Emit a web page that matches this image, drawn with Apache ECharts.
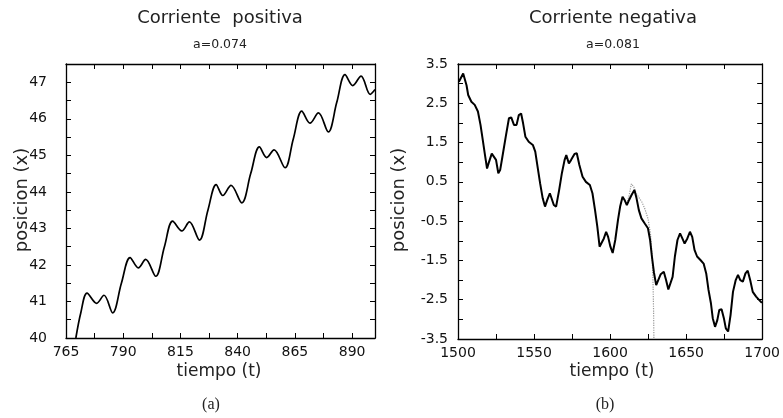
<!DOCTYPE html>
<html>
<head>
<meta charset="utf-8">
<script src="https://cdn.jsdelivr.net/npm/echarts@6/dist/echarts.min.js"></script>
<style>
html,body{margin:0;padding:0;background:#fff;}
#c{width:783px;height:418px;}
</style>
</head>
<body>
<div id="c"></div>
<script>
// ---- Data: panel (a) Corriente positiva ----
const leftT = [769.3, 771.5, 774.2, 778.4, 781.6, 785.4, 789.2, 793.0, 796.6, 799.8, 804.2, 808.0, 811.6, 815.6, 818.9, 823.3, 827.0, 830.6, 833.5, 837.1, 841.8, 845.7, 849.5, 852.7, 855.9, 860.7, 864.3, 868.0, 871.6, 875.3, 879.6, 883.3, 886.9, 890.3, 893.9, 897.9, 900.0];
const leftX = [40.0, 40.7, 41.23, 40.95, 41.17, 40.69, 41.5, 42.2, 41.92, 42.15, 41.69, 42.5, 43.2, 42.93, 43.18, 42.68, 43.5, 44.2, 43.9, 44.18, 43.7, 44.5, 45.23, 44.94, 45.15, 44.66, 45.45, 46.21, 45.88, 46.16, 45.64, 46.45, 47.21, 46.91, 47.17, 46.67, 46.8];

// ---- Data: panel (b) Corriente negativa ----
const rightT = [1500.6, 1503.4, 1505.6, 1506.7, 1508.8, 1511, 1513.1, 1514.8, 1516.3, 1517.9, 1519.1, 1520.1, 1522.2, 1523.5, 1525, 1526.5, 1527.7, 1529.2, 1531.4, 1533.5, 1535, 1536.8, 1538.5, 1540, 1541.5, 1542.8, 1544.3, 1546.5, 1549.2, 1550.8, 1552.3, 1554, 1555.7, 1557.2, 1558.7, 1560.4, 1561.5, 1563, 1564.5, 1566.5, 1568.3, 1570.1, 1571.2, 1572.9, 1574.4, 1576.6, 1578.1, 1579.8, 1581.9, 1584.1, 1586.7, 1588.4, 1590.1, 1591.6, 1593.1, 1594.4, 1595.9, 1597.4, 1598.7, 1600.2, 1601.7, 1603.4, 1605.2, 1606.6, 1608.2, 1609.5, 1611, 1612.5, 1614.2, 1616, 1617.4, 1618.9, 1620.6, 1622.8, 1624.9, 1626.3, 1627.5, 1628.8, 1630.3, 1631.6, 1633.3, 1635.3, 1636.8, 1638.3, 1639.6, 1641.1, 1642.6, 1644.3, 1646, 1647.5, 1649, 1650.8, 1652.5, 1654, 1655.5, 1657.2, 1659.4, 1661.5, 1663.2, 1664.7, 1666.3, 1667.5, 1669, 1670.5, 1671.8, 1673.3, 1674.8, 1676.1, 1677.6, 1679.2, 1680.8, 1682.6, 1684.1, 1685.6, 1687.3, 1689, 1690.5, 1692.1, 1693.8, 1696, 1698.1, 1699.8];
const rightX = [3.05, 3.26, 2.96, 2.71, 2.54, 2.46, 2.29, 1.95, 1.56, 1.14, 0.84, 0.97, 1.22, 1.27, 1.06, 0.72, 0.80, 1.14, 1.65, 2.12, 2.14, 1.95, 1.95, 2.20, 2.24, 1.99, 1.65, 1.52, 1.44, 1.27, 0.89, 0.46, 0.08, -0.13, 0.04, 0.21, 0.17, -0.09, -0.13, 0.29, 0.72, 1.06, 1.18, 0.97, 1.06, 1.21, 1.23, 0.93, 0.63, 0.50, 0.42, 0.21, -0.22, -0.64, -1.15, -1.19, -0.94, -0.77, -0.90, -1.15, -1.31, -0.98, -0.47, -0.13, 0.12, 0.04, -0.09, 0.04, 0.17, 0.29, 0.08, -0.22, -0.43, -0.56, -0.68, -0.98, -1.40, -1.80, -2.13, -2.17, -1.85, -1.79, -2.0, -2.24, -2.27, -1.92, -1.40, -0.98, -0.81, -0.94, -1.07, -0.94, -0.77, -0.90, -1.23, -1.40, -1.49, -1.58, -1.83, -2.25, -2.59, -2.97, -3.19, -3.02, -2.76, -2.74, -2.97, -3.23, -3.31, -2.89, -2.30, -2.0, -1.87, -2.0, -2.04, -1.83, -1.76, -2.0, -2.30, -2.42, -2.51, -2.58];
// dotted (grey) branch
const grayT = [1611, 1612.5, 1614, 1615.5, 1617, 1619, 1621, 1623, 1625, 1626.5, 1627.5, 1628.2, 1628.6, 1628.8];
const grayX = [-0.05, 0.15, 0.45, 0.38, 0.22, 0.1, -0.02, -0.2, -0.45, -0.8, -1.3, -2.0, -2.8, -3.5];

// ---- Tick labels ----
const leftXLabels = [765, 790, 815, 840, 865, 890];
const leftYLabels = [40, 41, 42, 43, 44, 45, 46, 47];
const rightXLabels = [1500, 1550, 1600, 1650, 1700];
const rightYLabels = [-3.5, -2.5, -1.5, -0.5, 0.5, 1.5, 2.5, 3.5];

function steps(a, b, s) { const r = []; for (let v = a; v <= b + 1e-9; v += s) r.push(+v.toFixed(4)); return r; }
const leftXTicks = steps(765, 900, 12.5);
const leftYTicks = steps(40, 47.5, 0.5);
const rightXTicks = steps(1500, 1700, 25);
const rightYTicks = steps(-3.5, 3.5, 0.5);

const zip = (a, b) => a.map((v, i) => [v, b[i]]);

const FONT = 'DejaVu Sans';
const lineCol = '#000';
const labelStyle = { fontFamily: FONT, fontSize: 14, color: '#111' };

function axis(grid, pos, min, max, ticks, labels, margin) {
  return {
    type: 'value', gridIndex: grid, position: pos, min: min, max: max,
    axisLine: { show: true, onZero: false, lineStyle: { color: lineCol, width: 1.3 } },
    axisTick: { show: true, inside: true, length: 5, customValues: ticks, lineStyle: { color: lineCol, width: 1 } },
    splitLine: { show: false },
    axisLabel: labels ? Object.assign({ customValues: labels, margin: margin, showMinLabel: true, showMaxLabel: true,
      formatter: v => String(v) }, labelStyle) : { show: false }
  };
}

const chart = echarts.init(document.getElementById('c'));
chart.setOption({
  animation: false,
  backgroundColor: '#fff',
  grid: [
    { left: 66, top: 64, width: 309, height: 274 },
    { left: 458, top: 64, width: 310, height: 275 }
  ],
  xAxis: [
    axis(0, 'bottom', 765, 900, leftXTicks, leftXLabels, 7),
    axis(0, 'top', 765, 900, leftXTicks, null),
    axis(1, 'bottom', 1500, 1700, rightXTicks, rightXLabels, 7),
    axis(1, 'top', 1500, 1700, rightXTicks, null)
  ],
  yAxis: [
    axis(0, 'left', 40, 47.5, leftYTicks, leftYLabels, 19),
    axis(0, 'right', 40, 47.5, leftYTicks, null),
    axis(1, 'left', -3.5, 3.5, rightYTicks, rightYLabels, 10),
    axis(1, 'right', -3.5, 3.5, rightYTicks, null)
  ],
  series: [
    { type: 'line', xAxisIndex: 0, yAxisIndex: 0, data: zip(leftT, leftX), smooth: 0.35, showSymbol: false,
      lineStyle: { color: '#000', width: 1.7 }, clip: true },
    { type: 'line', xAxisIndex: 2, yAxisIndex: 2, data: zip(grayT, grayX), showSymbol: false,
      lineStyle: { color: '#999', width: 1.2, type: 'dotted' }, clip: true },
    { type: 'line', xAxisIndex: 2, yAxisIndex: 2, data: zip(rightT, rightX), showSymbol: false,
      lineStyle: { color: '#000', width: 2 }, clip: true }
  ],
  graphic: [
    { type: 'text', x: 220, y: 18, style: { text: 'Corriente  positiva', font: '18px "DejaVu Sans"', fill: '#222', align: 'center', verticalAlign: 'middle' } },
    { type: 'text', x: 220, y: 45, style: { text: 'a=0.074', font: '12.5px "DejaVu Sans"', fill: '#222', align: 'center', verticalAlign: 'middle' } },
    { type: 'text', x: 613, y: 18, style: { text: 'Corriente negativa', font: '18px "DejaVu Sans"', fill: '#222', align: 'center', verticalAlign: 'middle' } },
    { type: 'text', x: 613, y: 45, style: { text: 'a=0.081', font: '12.5px "DejaVu Sans"', fill: '#222', align: 'center', verticalAlign: 'middle' } },
    { type: 'text', x: 219, y: 372, style: { text: 'tiempo (t)', font: '17px "DejaVu Sans"', fill: '#222', align: 'center', verticalAlign: 'middle' } },
    { type: 'text', x: 612, y: 372, style: { text: 'tiempo (t)', font: '17px "DejaVu Sans"', fill: '#222', align: 'center', verticalAlign: 'middle' } },
    { type: 'text', x: 22, y: 200, rotation: Math.PI / 2, style: { text: 'posicion (x)', font: '18px "DejaVu Sans"', fill: '#222', align: 'center', verticalAlign: 'middle' } },
    { type: 'text', x: 399, y: 200, rotation: Math.PI / 2, style: { text: 'posicion (x)', font: '18px "DejaVu Sans"', fill: '#222', align: 'center', verticalAlign: 'middle' } },
    { type: 'text', x: 211, y: 405, style: { text: '(a)', font: '16px "Liberation Serif"', fill: '#222', align: 'center', verticalAlign: 'middle' } },
    { type: 'text', x: 605, y: 405, style: { text: '(b)', font: '16px "Liberation Serif"', fill: '#222', align: 'center', verticalAlign: 'middle' } }
  ]
});
</script>
</body>
</html>
